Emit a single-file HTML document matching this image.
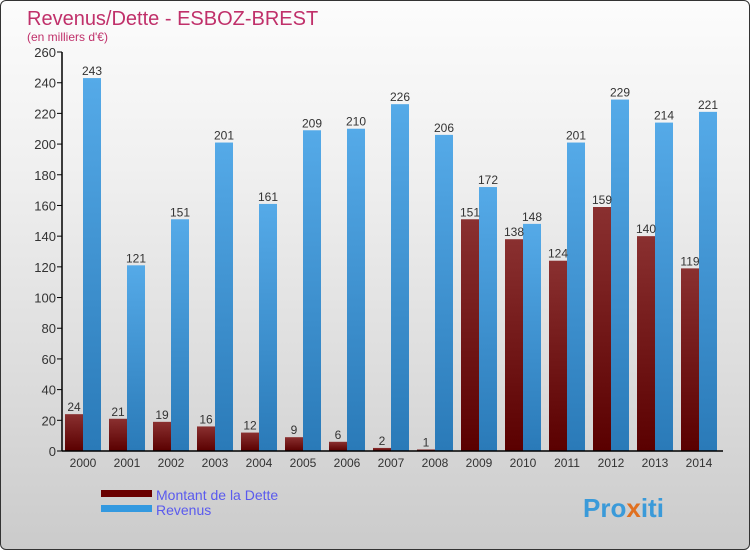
<!DOCTYPE html>
<html><head><meta charset="utf-8"><style>
body{margin:0}
#c{position:relative;width:750px;height:550px;box-sizing:border-box;border:1px solid #333;border-radius:6px;overflow:hidden;background:linear-gradient(#fcfcfc,#f0f0f0 30%,#d9d9d9 75%,#cbcbcb);font-family:"Liberation Sans",sans-serif}
</style></head><body>
<div id="c">
<svg id="s" width="750" height="550" style="position:absolute;left:0;top:0">
<defs>
<linearGradient id="gd" x1="0" y1="0" x2="0" y2="1"><stop offset="0" stop-color="#8a3030"/><stop offset="1" stop-color="#5a0000"/></linearGradient>
<linearGradient id="gr" x1="0" y1="0" x2="0" y2="1"><stop offset="0" stop-color="#55aae8"/><stop offset="1" stop-color="#2a7ab8"/></linearGradient>
</defs>
<text x="26" y="24" font-size="20" fill="#c0306a">Revenus/Dette - ESBOZ-BREST</text>
<text x="26" y="40" font-size="12" fill="#c0306a">(en milliers d'€)</text>
<g id="plot"></g>
<rect x="100" y="489" width="51" height="7" fill="#6a0000"/>
<rect x="100" y="504" width="51" height="7" fill="#3399e0"/>
<text x="155" y="499" font-size="14" fill="#5a5aee">Montant de la Dette</text>
<text x="155" y="514" font-size="14" fill="#5a5aee">Revenus</text>
<text x="582" y="516" font-size="26" font-weight="bold" fill="#3a9ad9">Pro<tspan fill="#e07020">x</tspan>iti</text>
</svg>
</div>
<script>
const years=["2000","2001","2002","2003","2004","2005","2006","2007","2008","2009","2010","2011","2012","2013","2014"];
const dette=[24,21,19,16,12,9,6,2,1,151,138,124,159,140,119];
const revenus=[243,121,151,201,161,209,210,226,206,172,148,201,229,214,221];
const ticks=[0,20,40,60,80,100,120,140,160,180,200,220,240,260];
const NS="http://www.w3.org/2000/svg";
const g=document.getElementById('plot');
const y0=450,yTop=51,vmax=260,x0=82,step=44,bw=18;
const Y=v=>y0-(v/vmax)*(y0-yTop);
const X=i=>x0+i*step;
function mk(t,a,txt){const e=document.createElementNS(NS,t);for(const k in a)e.setAttribute(k,a[k]);if(txt!=null)e.textContent=txt;g.appendChild(e);return e;}
ticks.forEach(t=>{
 const l=mk('line',{x1:56,x2:61,y1:Y(t),y2:Y(t),stroke:'#000'});
 
 
 const tx=mk('text',{x:55,y:Y(t)+5,'font-size':13,'text-anchor':'end',fill:'#333'},t);
 
 
});
years.forEach((yr,i)=>{
 const cx=X(i);
 const d=mk('rect',{x:cx-bw,y:Y(dette[i]),width:bw,height:y0-Y(dette[i]),fill:'url(#gd)'});
 
 
 const r=mk('rect',{x:cx,y:Y(revenus[i]),width:bw,height:y0-Y(revenus[i]),fill:'url(#gr)'});
 
 
 const dl=mk('text',{x:cx-bw/2,y:Y(dette[i])-3,'font-size':12,'text-anchor':'middle',fill:'#333'},dette[i]);
 
 
 const rl=mk('text',{x:cx+bw/2,y:Y(revenus[i])-3,'font-size':12,'text-anchor':'middle',fill:'#333'},revenus[i]);
 
 
 const xl=mk('text',{x:cx,y:466,'font-size':12,'text-anchor':'middle',fill:'#333'},yr);
 
 
});
const ya=mk('line',{x1:61,x2:61,y1:yTop,y2:y0,stroke:'#000','stroke-width':1.5});


const xa=mk('line',{x1:61,x2:722,y1:y0,y2:y0,stroke:'#000','stroke-width':1.5});


</script>
</body></html>
